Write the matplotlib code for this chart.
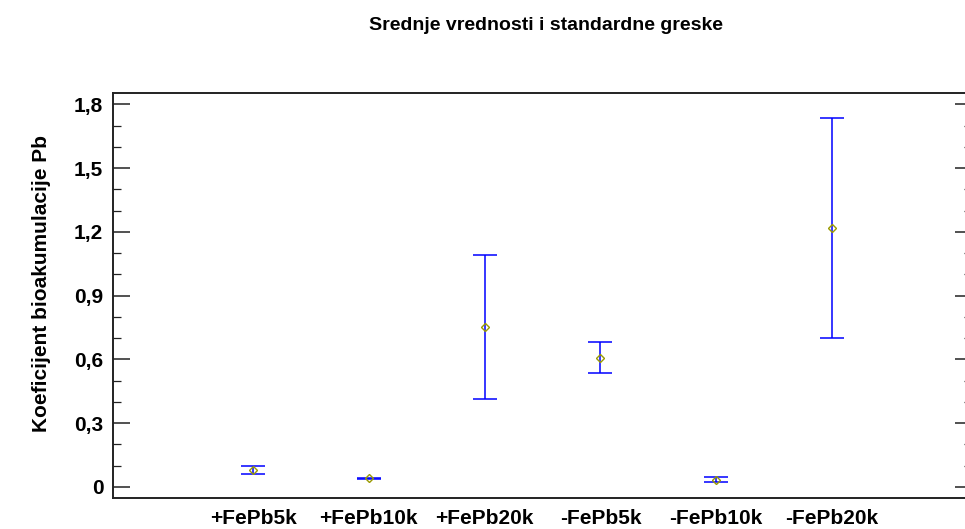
import numpy as np
import matplotlib.pyplot as plt
from matplotlib.ticker import MultipleLocator, FuncFormatter

plt.rcParams['font.family'] = ['Liberation Sans', 'DejaVu Sans']

# Group means and standard errors
groups = ['+FePb5k', '+FePb10k', '+FePb20k', '-FePb5k', '-FePb10k', '-FePb20k']
means = [0.078, 0.040, 0.753, 0.607, 0.034, 1.218]
std_err = [0.019, 0.003, 0.340, 0.073, 0.010, 0.517]

fig = plt.figure(figsize=(9.65, 5.29), dpi=100)
ax = fig.add_axes([0.1171, 0.0586, 0.8902, 0.7656])

x = np.arange(len(groups))
ax.errorbar(x, means, yerr=std_err, fmt='none', ecolor='#0000ff',
            elinewidth=1.1, capsize=8.6, capthick=1.1)
ax.plot(x, means, 'D', markersize=4, markerfacecolor='none',
        markeredgecolor='#9a9a00', markeredgewidth=1.0)

ax.set_xlim(-1.21, 6.21)
ax.set_ylim(-0.053, 1.854)
ax.set_xticks(x)
ax.set_xticklabels(groups, fontsize=15, fontweight='bold')
ax.tick_params(axis='x', length=0, pad=8)

ax.yaxis.set_major_locator(MultipleLocator(0.3))
ax.yaxis.set_minor_locator(MultipleLocator(0.1))
ax.yaxis.set_major_formatter(FuncFormatter(lambda v, p: ('%g' % round(v, 2)).replace('.', ',')))
ax.tick_params(axis='y', which='major', direction='in', length=12.2, width=1.1,
               labelsize=15, pad=7, right=True, colors='#222222')
ax.tick_params(axis='y', which='minor', direction='in', length=5.8, width=0.9,
               right=True, colors='#222222')
for lbl in ax.get_yticklabels():
    lbl.set_fontweight('bold')
    lbl.set_color('black')

for s in ax.spines.values():
    s.set_linewidth(1.4)
    s.set_color('#222222')

ax.set_ylabel('Koeficijent bioakumulacije Pb', fontsize=15, fontweight='bold',
              va='center')
ax.yaxis.set_label_coords(-0.083, 0.53)
fig.text(0.566, 0.952, 'Srednje vrednosti i standardne greske', ha='center', va='center',
         fontsize=14, fontweight='bold')

fig.savefig('out.png', dpi=100)
